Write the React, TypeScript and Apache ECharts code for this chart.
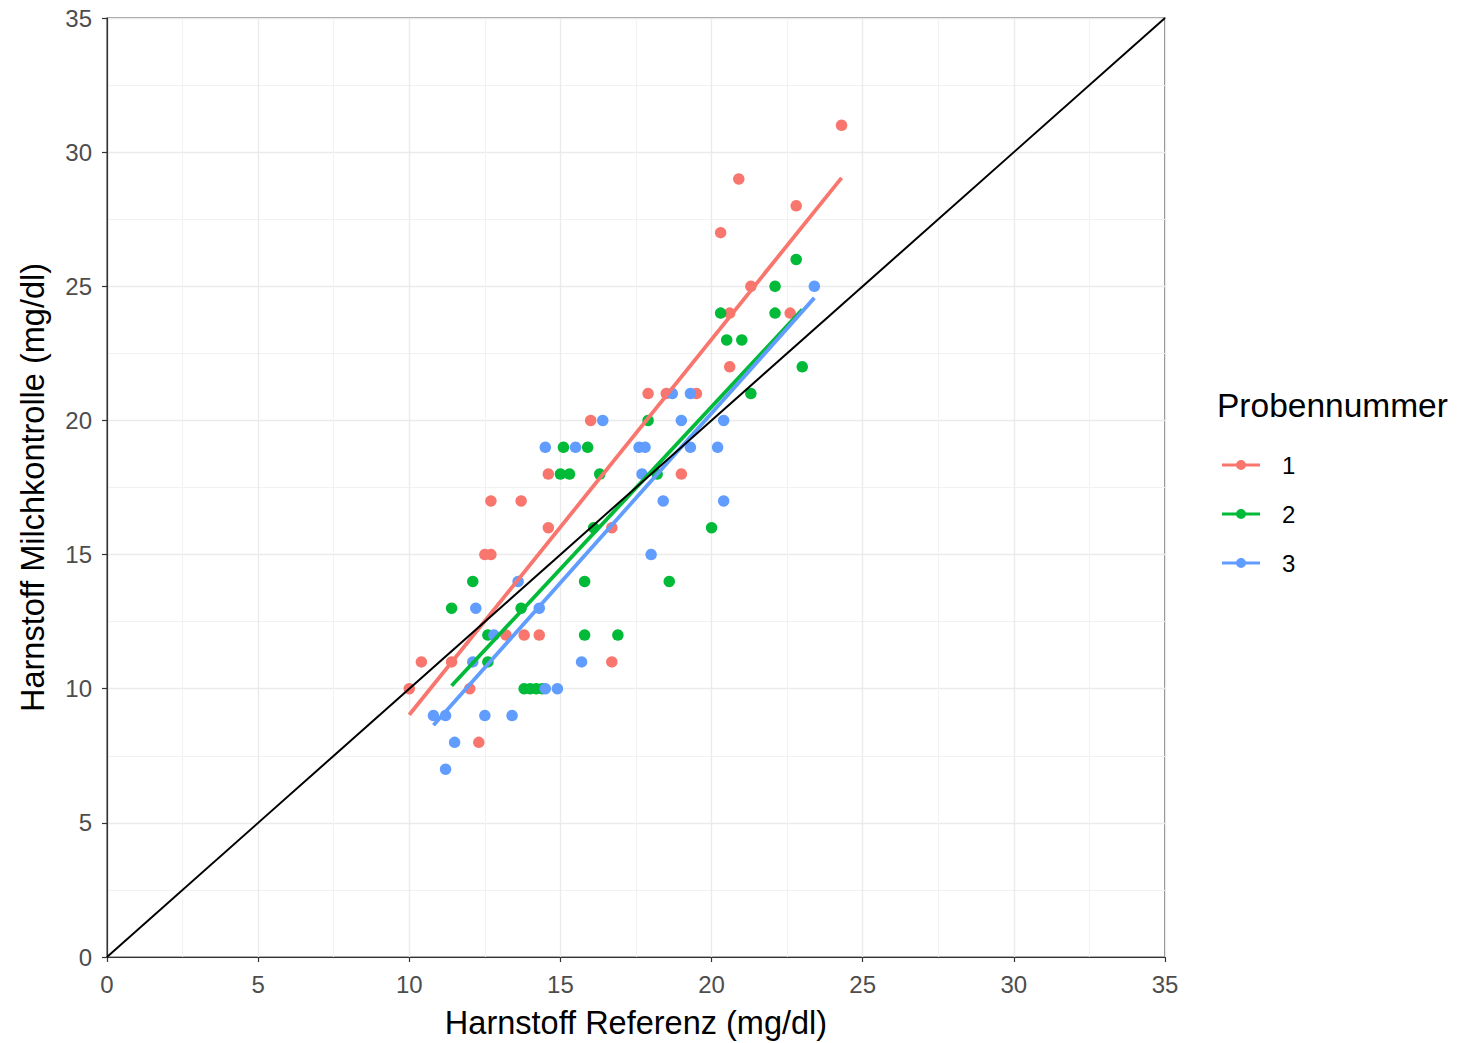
import React, { useEffect, useRef } from "react";
import * as echarts from "echarts";

const seriesNames = ["1", "2", "3"];
const colors = ["#F8766D", "#00BA38", "#619CFF"];
const axisTicks = [0, 5, 10, 15, 20, 25, 30, 35];

const x1 = [10.0, 10.4, 11.4, 12.0, 12.3, 12.5, 12.7, 12.7, 13.2, 13.7, 13.8, 14.3, 14.6, 14.6, 16.0, 16.7, 16.7, 17.9, 18.5, 19.5, 19.0, 20.3, 20.9, 20.6, 20.6, 21.3, 22.8, 22.6, 24.3];
const y1 = [10, 11, 11, 10, 8, 15, 15, 17, 12, 17, 12, 12, 16, 18, 20, 16, 11, 21, 21, 21, 18, 27, 29, 24, 22, 25, 28, 24, 31];

const x2 = [15.1, 15.9, 15.0, 15.3, 16.3, 16.1, 12.1, 11.4, 13.7, 12.6, 12.6, 15.8, 15.8, 16.9, 13.8, 14.0, 14.2, 14.4, 20.3, 22.1, 22.8, 22.1, 20.5, 21.0, 23.0, 21.3, 17.9, 18.2, 20.0, 18.6];
const y2 = [19, 19, 18, 18, 18, 16, 14, 13, 13, 12, 11, 14, 12, 12, 10, 10, 10, 10, 24, 25, 26, 24, 23, 23, 22, 21, 20, 18, 16, 14];

const x3 = [14.5, 15.5, 16.4, 17.6, 17.8, 17.7, 13.6, 12.2, 14.3, 12.8, 12.1, 15.7, 14.5, 14.9, 10.8, 11.2, 12.5, 13.4, 11.5, 11.2, 23.4, 18.7, 19.3, 19.0, 20.4, 19.3, 20.2, 18.4, 20.4, 18.0];
const y3 = [19, 19, 20, 19, 19, 18, 14, 13, 13, 12, 11, 11, 10, 10, 9, 9, 9, 9, 8, 7, 25, 21, 21, 20, 20, 19, 19, 17, 17, 15];

const groupsX = [x1, x2, x3];
const groupsY = [y1, y2, y3];

function fitLine(xs: number[], ys: number[]): number[][] {
  const n = xs.length;
  const mx = xs.reduce((a, b) => a + b, 0) / n;
  const my = ys.reduce((a, b) => a + b, 0) / n;
  let sxy = 0;
  let sxx = 0;
  for (let i = 0; i < n; i++) {
    sxy += (xs[i] - mx) * (ys[i] - my);
    sxx += (xs[i] - mx) * (xs[i] - mx);
  }
  const b = sxy / sxx;
  const a = my - b * mx;
  const lo = Math.min(...xs);
  const hi = Math.max(...xs);
  return [
    [lo, a + b * lo],
    [hi, a + b * hi],
  ];
}

const legendIcon =
  "path://M0,3.5 H38 V6.5 H0 Z M14,5 A5,5 0 1,1 24,5 A5,5 0 1,1 14,5 Z";

export default function App() {
  const ref = useRef<HTMLDivElement>(null);

  useEffect(() => {
    document.body.style.margin = "0";
    if (!ref.current) return;
    const chart = echarts.init(ref.current, undefined, { renderer: "svg" });

    const font = "'Liberation Sans', Arial, Helvetica, sans-serif";
    const axisCommon = {
      type: "value" as const,
      min: axisTicks[0],
      max: axisTicks[axisTicks.length - 1],
      interval: 5,
      nameLocation: "middle" as const,
      nameTextStyle: { color: "#000", fontSize: 32.5, fontFamily: font },
      axisLine: { show: true, onZero: false, lineStyle: { color: "#333333", width: 1.2 } },
      axisTick: { show: true, length: 5, lineStyle: { color: "#333333", width: 1.2 } },
      axisLabel: { color: "#4D4D4D", fontSize: 24, fontFamily: font },
      splitLine: { show: true, lineStyle: { color: "#EBEBEB", width: 1.4 } },
      minorTick: { show: false, splitNumber: 2 },
      minorSplitLine: { show: true, lineStyle: { color: "#F2F2F2", width: 1 } },
    };

    const scatterSeries = seriesNames.map((name, i) => ({
      name,
      type: "scatter" as const,
      symbol: "circle",
      symbolSize: 11.5,
      itemStyle: { color: colors[i], opacity: 1 },
      data: groupsX[i].map((x, j) => [x, groupsY[i][j]]),
      z: 2,
    }));

    const fitSeries = seriesNames.map((name, i) => ({
      name: "fit " + name,
      type: "line" as const,
      showSymbol: false,
      symbol: "none",
      lineStyle: { color: colors[i], width: 3.8 },
      itemStyle: { color: colors[i] },
      data: fitLine(groupsX[i], groupsY[i]),
      z: 3,
    }));

    chart.setOption({
      animation: false,
      backgroundColor: "#ffffff",
      textStyle: { fontFamily: font },
      grid: {
        left: 107,
        right: 293,
        top: 18,
        bottom: 86,
        containLabel: false,
        outerBoundsMode: "none",
        show: true,
        borderColor: "#333333",
        borderWidth: 1.2,
        backgroundColor: "#ffffff",
      },
      xAxis: {
        ...axisCommon,
        name: "Harnstoff Referenz (mg/dl)",
        nameGap: 49,
        axisLabel: { ...axisCommon.axisLabel, margin: 15 },
      },
      yAxis: {
        ...axisCommon,
        name: "Harnstoff Milchkontrolle (mg/dl)",
        nameGap: 58,
        axisLabel: { ...axisCommon.axisLabel, margin: 15 },
      },
      legend: {
        orient: "vertical",
        left: 1222,
        top: 453,
        padding: 0,
        itemWidth: 38,
        itemHeight: 10,
        itemGap: 25,
        icon: legendIcon,
        data: seriesNames.map((n) => ({ name: n, icon: legendIcon })),
        textStyle: {
          fontSize: 24,
          lineHeight: 24,
          color: "#000",
          fontFamily: font,
          padding: [0, 0, 0, 17],
        },
        selectedMode: false,
      },
      graphic: [
        {
          type: "text",
          left: 1217,
          top: 388,
          style: {
            text: "Probennummer",
            fontSize: 33.5,
            fontFamily: font,
            fill: "#000",
          },
        },
      ],
      series: [
        ...scatterSeries,
        ...fitSeries,
        {
          name: "identity",
          type: "line",
          showSymbol: false,
          symbol: "none",
          lineStyle: { color: "#000000", width: 2 },
          data: [
            [axisTicks[0], axisTicks[0]],
            [axisTicks[axisTicks.length - 1], axisTicks[axisTicks.length - 1]],
          ],
          z: 4,
        },
      ],
    });

    return () => chart.dispose();
  }, []);

  return <div ref={ref} style={{ width: 1458, height: 1043 }} />;
}
